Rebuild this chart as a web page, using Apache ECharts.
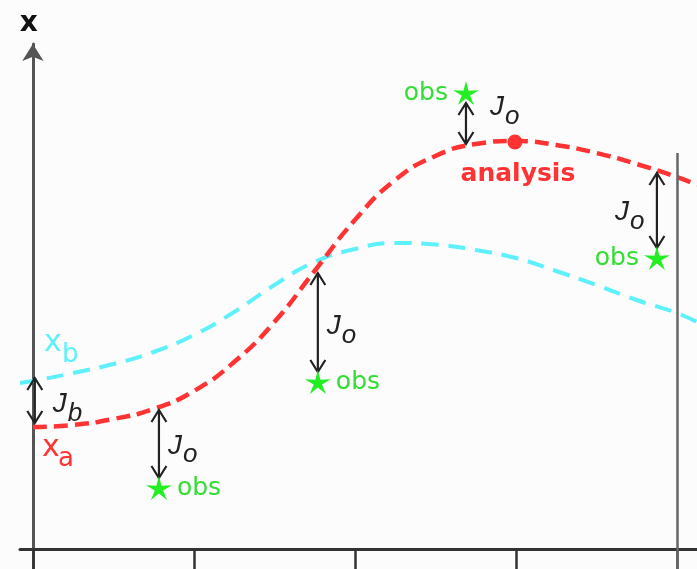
<!DOCTYPE html>
<html><head><meta charset="utf-8">
<script src="https://cdn.jsdelivr.net/npm/echarts@6/dist/echarts.min.js"></script>
<style>html,body{margin:0;padding:0;background:#fbfcfb}#c{width:697px;height:569px}</style>
</head><body><div id="c"></div>
<script>
// ---- data ----
const xTicks = [0, 1, 2, 3, 4];
const analysisX = [0, 0.25, 0.5, 0.75, 1.0, 1.25, 1.5, 1.75, 2.0, 2.25, 2.5, 2.75, 3.0, 3.25, 3.5, 3.75, 4.0, 4.125];
const analysisY = [24.4, 24.8, 26.0, 28.0, 31.6, 37.4, 45.4, 55.6, 65.8, 73.8, 78.6, 81.0, 81.6, 80.8, 79.2, 77.0, 74.4, 72.8];
const backgroundX = [-0.08, 0, 0.25, 0.5, 0.75, 1.0, 1.25, 1.5, 1.75, 2.0, 2.25, 2.5, 2.75, 3.0, 3.25, 3.5, 3.75, 4.0, 4.125];
const backgroundY = [33.2, 33.6, 35.2, 37.0, 39.4, 42.8, 47.4, 52.8, 57.4, 60.0, 61.2, 60.9, 59.8, 58.2, 55.6, 52.8, 49.8, 47.2, 45.4];
const obsX = [0.783, 1.770, 2.690, 3.876];
const obsY = [12.2, 33.4, 91.2, 58.2];
const analysisAtObs = [27.8, 55.2, 81.0, 75.2];
const peakX = [2.994];
const peakY = [81.4];
const jbX = [0.012];
const jbBackground = [34.2];
const jbAnalysis = [25.2];
const windowX = [4];
const windowTop = [79.2];
const axisName = 'x';
const obsLabel = 'obs';
const peakLabel = 'analysis';
const arrowLabels = [['J', 'o'], ['J', 'o'], ['J', 'o'], ['J', 'o'], ['J', 'b']];
const curveNames = [['x', 'b'], ['x', 'a']];

// ---- style constants ----
const RED = '#ff3333', CYAN = '#5ef0fb', GREEN = '#22ee22', GREEN_TXT = '#33dd33', INK = '#222';
const obsSide = ['right', 'right', 'left', 'left'];
const arrowLabelOffset = [[9, 2], [9, 4], [24, -16], [-42, 2], [18, 4]];
const arrowEndGap = [10, 10, 10, 10, 0];

function starPath(R, r) {
  let d = '';
  for (let i = 0; i < 10; i++) {
    const a = -Math.PI / 2 + i * Math.PI / 5;
    const rad = i % 2 ? r : R;
    d += (i ? 'L' : 'M') + (R + rad * Math.cos(a)).toFixed(2) + ',' + (R + rad * Math.sin(a)).toFixed(2);
  }
  return 'path://' + d + 'Z';
}

function subText(x, y, main, sub, o) {
  return [
    {type: 'text', x: x, y: y, style: {text: main, font: o.mainFont, fill: o.color, align: 'left', verticalAlign: 'middle'}},
    {type: 'text', x: x + o.dx, y: y + o.dy, style: {text: sub, font: o.subFont, fill: o.color, align: 'left', verticalAlign: 'middle'}}
  ];
}

const arrowData = obsX.map((x, i) => [x, analysisAtObs[i], obsY[i]])
  .concat(jbX.map((x, i) => [x, jbBackground[i], jbAnalysis[i]]));

function renderArrow(params, api) {
  const i = params.dataIndex;
  const p1 = api.coord([api.value(0), api.value(1)]);
  let p2 = api.coord([api.value(0), api.value(2)]);
  const dir = Math.sign(p2[1] - p1[1]);
  p2 = [p2[0], p2[1] - dir * arrowEndGap[i]];
  const HW = 7.5, HL = 12;
  const st = {stroke: INK, lineWidth: 2.2, fill: null, lineJoin: 'miter'};
  const mid = (p1[1] + p2[1]) / 2;
  const off = arrowLabelOffset[i];
  const lab = arrowLabels[i];
  const children = [
    {type: 'line', shape: {x1: p1[0], y1: p1[1], x2: p2[0], y2: p2[1]}, style: st},
    {type: 'polyline', shape: {points: [[p2[0] - HW, p2[1] - dir * HL], [p2[0], p2[1]], [p2[0] + HW, p2[1] - dir * HL]]}, style: st},
    {type: 'polyline', shape: {points: [[p1[0] - HW, p1[1] + dir * HL], [p1[0], p1[1]], [p1[0] + HW, p1[1] + dir * HL]]}, style: st}
  ].concat(subText(p1[0] + off[0], mid + off[1], lab[0], lab[1], {
    mainFont: 'italic 28px "Liberation Sans"', subFont: 'italic 26px "Liberation Sans"', color: INK, dx: 15, dy: 9
  }));
  return {type: 'group', children: children};
}

const nameData = [[backgroundX[1], backgroundY[1]], [analysisX[0], analysisY[0]]];
const nameStyle = [
  {color: CYAN, off: [11, -38], dx: 18, dy: 12},
  {color: RED, off: [9, 21], dx: 16, dy: 11}
];
function renderName(params, api) {
  const i = params.dataIndex;
  const p = api.coord([api.value(0), api.value(1)]);
  const s = nameStyle[i];
  return {type: 'group', children: subText(p[0] + s.off[0], p[1] + s.off[1], curveNames[i][0], curveNames[i][1], {
    mainFont: '30px "DejaVu Sans"', subFont: '26px "DejaVu Sans"', color: s.color, dx: s.dx, dy: s.dy
  })};
}

const chart = echarts.init(document.getElementById('c'), null, {renderer: 'canvas'});
chart.setOption({
  backgroundColor: '#fbfcfb',
  animation: false,
  grid: {left: 20, right: 0, top: 44, bottom: 0, containLabel: false},
  xAxis: {
    type: 'value', min: -0.08, max: 4.125,
    axisLine: {show: true, onZero: true, lineStyle: {color: '#333', width: 3}},
    axisTick: {show: true, customValues: xTicks, length: 20, inside: false, lineStyle: {color: '#333', width: 2.5}},
    axisLabel: {show: false}, splitLine: {show: false}
  },
  yAxis: {
    type: 'value', min: -4, max: 101,
    name: axisName, nameLocation: 'end', nameGap: 6,
    nameTextStyle: {fontFamily: 'DejaVu Sans', fontWeight: 'bold', fontSize: 28, color: '#111', padding: [0, 8, 0, 0]},
    axisLine: {show: true, onZero: true, symbol: ['none', 'arrow'], symbolSize: [16, 17], lineStyle: {color: '#555', width: 3}},
    axisTick: {show: false}, axisLabel: {show: false}, splitLine: {show: false}
  },
  series: [
    {
      type: 'line', name: 'background', smooth: 0.5, showSymbol: false, silent: true,
      data: backgroundX.map((x, i) => [x, backgroundY[i]]),
      lineStyle: {color: CYAN, width: 4, type: [17, 10]}
    },
    {
      type: 'line', name: 'analysis', smooth: 0.5, showSymbol: false, silent: true,
      data: analysisX.map((x, i) => [x, analysisY[i]]),
      lineStyle: {color: RED, width: 4.5, type: [14, 7]},
      markLine: {
        silent: true, symbol: ['none', 'none'], label: {show: false},
        lineStyle: {color: '#666', width: 2.5, type: 'solid'},
        data: windowX.map((x, i) => [{coord: [x, windowTop[i]]}, {coord: [x, -4]}])
      }
    },
    {
      type: 'scatter', name: 'peak', silent: true, symbol: 'circle', symbolSize: 15,
      itemStyle: {color: RED, opacity: 1},
      data: peakX.map((x, i) => [x, peakY[i]]),
      label: {show: true, position: 'bottom', distance: 12, offset: [3, 0], formatter: peakLabel,
        fontFamily: 'DejaVu Sans', fontWeight: 'bold', fontSize: 25, color: RED}
    },
    {
      type: 'custom', name: 'arrows', silent: true, renderItem: renderArrow,
      encode: {x: 0, y: [1, 2]}, data: arrowData, z: 5
    },
    {
      type: 'scatter', name: 'obs', silent: true, symbol: starPath(10, 3.2), symbolSize: [26, 25], symbolKeepAspect: true,
      itemStyle: {color: GREEN, opacity: 1}, z: 6,
      data: obsX.map((x, i) => ({value: [x, obsY[i]], label: {position: obsSide[i]}})),
      label: {show: true, formatter: obsLabel, distance: 5, fontFamily: 'DejaVu Sans', fontSize: 25, color: GREEN_TXT}
    },
    {
      type: 'custom', name: 'names', silent: true, renderItem: renderName,
      encode: {x: 0, y: 1}, data: nameData, z: 6
    }
  ]
});
</script></body></html>
